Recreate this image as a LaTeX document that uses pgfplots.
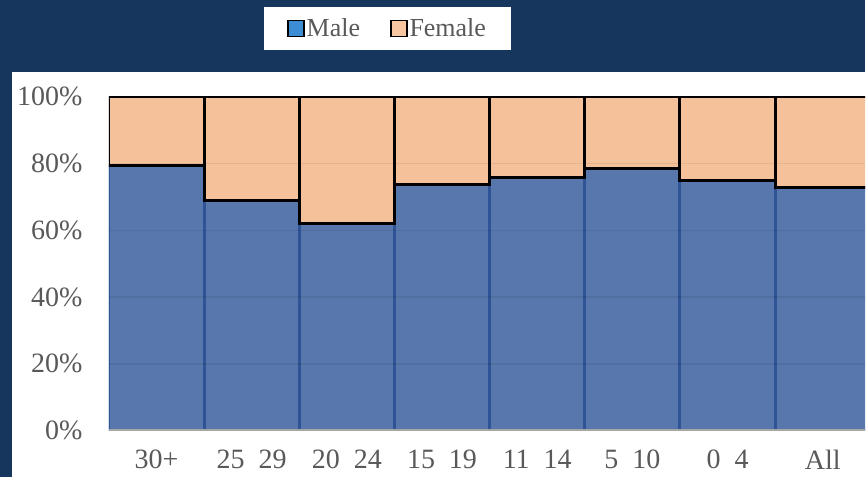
\documentclass[border=0pt]{standalone}
\usepackage{pgfplots}
\pgfplotsset{compat=1.18}
\usepackage{fontspec}
\setmainfont{Liberation Serif}
\definecolor{navy}{HTML}{17365D}
\definecolor{maleblue}{HTML}{5877AD}
\definecolor{femalepeach}{HTML}{F5C19B}
\definecolor{maleedge}{HTML}{2F5496}
\definecolor{legblue}{HTML}{3C8DD3}
\definecolor{legpeach}{HTML}{F8C6A0}
\definecolor{tickgray}{HTML}{595959}
\begin{document}
\begin{tikzpicture}[x=1pt,y=1pt]
\fill[navy] (0,0) rectangle (866,478);
\fill[white] (12,0) rectangle (866,406);
\begin{axis}[
  at={(109pt,47pt)}, anchor=south west,
  scale only axis, width=757pt, height=334pt,
  ybar stacked, bar width=1, reverse stacked plots=false,
  xmin=-0.5, xmax=7.444, ymin=0, ymax=1,
  xtick={0,...,7},
  xticklabels={30+, 25\hspace{14pt}29, 20\hspace{14pt}24, 15\hspace{14pt}19, 11\hspace{14pt}14, 5\hspace{14pt}10, 0\hspace{14pt}4, All},
  ytick={0,0.2,0.4,0.6,0.8,1},
  yticklabels={0\%,20\%,40\%,60\%,80\%,100\%},
  major tick length=0pt,
  axis on top,
  ymajorgrids, grid style={draw=black, draw opacity=0.07, line width=1.5pt},
  axis lines*=left,
  y axis line style={draw=none},
  x axis line style={draw=black!35, line width=2pt},
  tick label style={font=\fontsize{28}{32}\selectfont, text=tickgray},
  yticklabel style={xshift=-23pt},
  xticklabel style={yshift=-16pt},
  legend columns=2,
  legend style={at={(0.3686,1.205)}, anchor=center, draw=none, fill=white,
    font=\fontsize{26}{28}\selectfont, text=tickgray,
    inner xsep=23pt, inner ysep=10pt,
    /tikz/every even column/.append style={column sep=28pt}},
]
\addplot[fill=maleblue, draw=maleedge, line width=3pt,
  legend image code/.code={\draw[fill=legblue, draw=black, line width=1.5pt] (0pt,-8pt) rectangle (16pt,8pt);}]
  coordinates {(0,0.793) (1,0.689) (2,0.620) (3,0.737) (4,0.757) (5,0.784) (6,0.749) (7,0.728)};
\addlegendentry{Male}
\addplot[fill=femalepeach, draw=black, line width=3pt,
  legend image code/.code={\draw[fill=legpeach, draw=black, line width=1.5pt] (0pt,-8pt) rectangle (16pt,8pt);}]
  coordinates {(0,0.207) (1,0.311) (2,0.380) (3,0.263) (4,0.243) (5,0.216) (6,0.251) (7,0.272)};
\addlegendentry{Female}
\end{axis}
\end{tikzpicture}
\end{document}
